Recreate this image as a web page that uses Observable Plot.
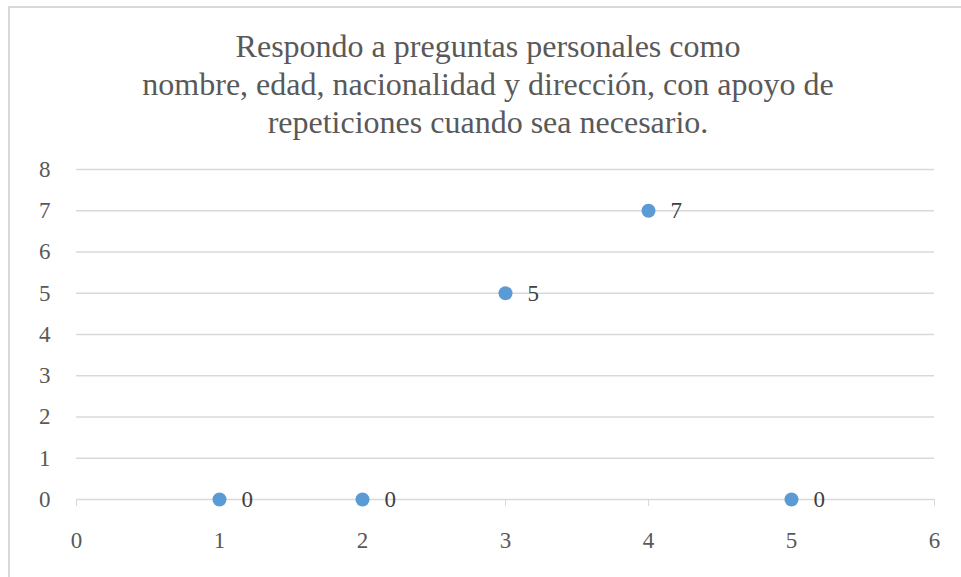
<!DOCTYPE html>
<html>
<head>
<meta charset="utf-8">
<script src="https://cdn.jsdelivr.net/npm/d3@7"></script>
<script src="https://cdn.jsdelivr.net/npm/@observablehq/plot@0.6"></script>
<style>
  body { margin: 0; background: #fff; }
  #wrap { position: relative; width: 961px; height: 577px; overflow: hidden; background: #fff; }
  #frame { position: absolute; left: 8px; top: 6px; width: 1000px; height: 1000px; border-left: 2px solid #d9d9d9; border-top: 2px solid #d9d9d9; box-sizing: border-box; }
  #title { position: absolute; left: 0; top: 27px; width: 976px; text-align: center; font-family: "Liberation Serif", "DejaVu Serif", serif; font-size: 32px; line-height: 38px; color: #595959; }
  #chart { position: absolute; left: 0; top: 150px; }
</style>
</head>
<body>
<div id="wrap">
  <div id="frame"></div>
  <div id="title">Respondo a preguntas personales como<br>nombre, edad, nacionalidad y dirección, con apoyo de<br>repeticiones cuando sea necesario.</div>
  <div id="chart"></div>
</div>
<script>
const xValues = [1, 2, 3, 4, 5];
const yValues = [0, 0, 5, 7, 0];
const xTicks = [0, 1, 2, 3, 4, 5, 6];
const yTicks = [0, 1, 2, 3, 4, 5, 6, 7, 8];

const data = xValues.map((x, i) => ({x, y: yValues[i]}));
const font = "'Liberation Serif', 'DejaVu Serif', serif";

const plot = Plot.plot({
  width: 961,
  height: 427,
  marginTop: 19,
  marginBottom: 78,
  marginLeft: 76,
  marginRight: 27,
  style: {fontFamily: font, fontSize: "23px", color: "#595959", background: "transparent", overflow: "visible"},
  x: {domain: [0, 6], ticks: xTicks, tickFormat: "d", label: null},
  y: {domain: [0, 8], ticks: yTicks, tickFormat: "d", label: null},
  marks: [
    Plot.ruleY(yTicks, {stroke: "#d9d9d9", strokeWidth: 1.3}),
    Plot.axisX({ticks: xTicks, tickFormat: "d", tickSize: 7, tickPadding: 25, stroke: "#d9d9d9", strokeOpacity: 1, fill: "#595959", fontSize: 23}),
    Plot.axisY({ticks: yTicks, tickFormat: "d", tickSize: 0, tickPadding: 26, fill: "#595959", fontSize: 23}),
    Plot.dot(data, {x: "x", y: "y", r: 7, fill: "#5b9bd5", stroke: "none"}),
    Plot.text(data, {x: "x", y: "y", text: d => String(d.y), dx: 22, textAnchor: "start", fill: "#404040", fontSize: 23})
  ]
});
document.getElementById("chart").appendChild(plot);
</script>
</body>
</html>
